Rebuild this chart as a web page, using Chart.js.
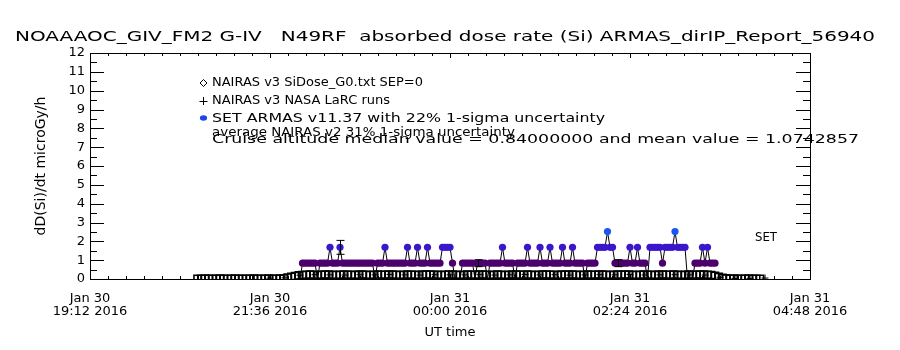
<!DOCTYPE html>
<html>
<head>
<meta charset="utf-8">
<script src="https://cdn.jsdelivr.net/npm/chart.js@4"></script>
<style>
  html, body { margin: 0; padding: 0; background: #fff; }
</style>
</head>
<body>
<canvas id="chart-dose" width="900" height="350"></canvas>
<script>
// Time axis is in minutes after Jan 30 19:12 UT
const tickDay = ['Jan 30', 'Jan 30', 'Jan 31', 'Jan 31', 'Jan 31'];
const tickClock = ['19:12 2016', '21:36 2016', '00:00 2016', '02:24 2016', '04:48 2016'];

// NAIRAS v3 SiDose_G0 model, one value every 3 minutes
const nairasStart = 86;
const nairasStep = 3;
const nairasDose = [
    0.01, 0.01, 0.02, 0.01, 0.01, 0.01, 0.02, 0.01, 0.01, 0.01, 0.02, 0.01, 0.01, 0.01, 0.01, 0.02, 0.01, 0.01, 0.01, 0.02, 0.01, 0.01, 0.02,
    0.04, 0.08, 0.12, 0.16, 0.19,
    0.21, 0.22, 0.23, 0.22, 0.21, 0.22, 0.24, 0.23, 0.22, 0.21,
    0.22, 0.23, 0.22, 0.22, 0.21, 0.23, 0.24, 0.22, 0.21, 0.22,
    0.23, 0.22, 0.22, 0.24, 0.23, 0.22, 0.21, 0.22, 0.23, 0.22,
    0.22, 0.21, 0.23, 0.24, 0.23, 0.22, 0.22, 0.21, 0.22, 0.23,
    0.24, 0.22, 0.21, 0.22, 0.23, 0.22, 0.22, 0.23, 0.24, 0.22,
    0.21, 0.22, 0.23, 0.22, 0.21, 0.22, 0.24, 0.23, 0.22, 0.22,
    0.23, 0.22, 0.21, 0.22, 0.23, 0.24, 0.22, 0.22, 0.21, 0.23,
    0.22, 0.23, 0.24, 0.22, 0.21, 0.22, 0.23, 0.22, 0.22, 0.24,
    0.23, 0.22, 0.21, 0.22, 0.23, 0.22, 0.24, 0.23, 0.22, 0.21,
    0.22, 0.23, 0.22, 0.22, 0.21, 0.23, 0.24, 0.22, 0.22, 0.23,
    0.22, 0.21, 0.22, 0.23, 0.22, 0.22, 0.24, 0.23, 0.22, 0.21,
    0.17, 0.11, 0.06, 0.03,
    0.01, 0.02, 0.01, 0.01, 0.01, 0.02, 0.01, 0.01, 0.01
];

// NAIRAS v3 NASA LaRC runs, every 12 minutes
const larcStart = 144;
const larcStep = 12;
const larcDose = [
    0.04, 0.06, 0.20,
    0.23, 0.22, 0.21, 0.23, 0.22, 0.24, 0.22, 0.21, 0.23, 0.22, 0.22, 0.23, 0.21, 0.22,
    0.24, 0.22, 0.23, 0.21, 0.22, 0.23, 0.22, 0.24, 0.21, 0.22, 0.23, 0.22, 0.21,
    0.09, 0.03, 0.03, 0.05
];

// SET ARMAS v11.37 dose rate, every 2 minutes (quantised in 0.84 steps)
const armasStart = 168;
const armasStep = 2;
const armasDose = [
    0, 0.84, 0.84, 0.84, 0.84, 0.84, 0.84, 0, 0.84, 0.84,
    0.84, 0.84, 1.68, 0.84, 0.84, 0.84, 1.68, 0.84, 0.84, 0.84,
    0.84, 0.84, 0.84, 0.84, 0.84, 0.84, 0.84, 0.84, 0.84, 0.84,
    0, 0.84, 0.84, 0.84, 1.68, 0.84, 0.84, 0.84, 0.84, 0.84,
    0.84, 0.84, 0.84, 1.68, 0.84, 0.84, 0.84, 1.68, 0.84, 0.84,
    0.84, 1.68, 0.84, 0.84, 0.84, 0.84, 0.84, 1.68, 1.68, 1.68,
    1.68, 0.84, 0, 0, 0, 0.84, 0.84, 0.84, 0.84, 0.84,
    0, 0.84, 0.84, 0.84, 0.84, 0, 0.84, 0.84, 0.84, 0.84,
    0.84, 1.68, 0.84, 0.84, 0.84, 0.84, 0, 0.84, 0.84, 0.84,
    0.84, 1.68, 0.84, 0.84, 0.84, 0.84, 1.68, 0.84, 0.84, 0.84,
    1.68, 0.84, 0.84, 0.84, 0.84, 1.68, 0.84, 0.84, 0.84, 1.68,
    0.84, 0.84, 0.84, 0.84, 0, 0.84, 0.84, 0.84, 0.84, 1.68,
    1.68, 1.68, 1.68, 2.52, 1.68, 1.68, 0.84, 0.84, 0.84, 0.84,
    0.84, 0.84, 1.68, 0.84, 0.84, 1.68, 0.84, 0.84, 0.84, 0,
    1.68, 1.68, 1.68, 1.68, 1.68, 0.84, 1.68, 1.68, 1.68, 1.68,
    2.52, 1.68, 1.68, 1.68, 1.68, 0, 0, 0, 0.84, 0.84,
    0.84, 1.68, 0.84, 1.68, 0.84, 0.84, 0.84
];
const armasSigma = 0.22;

// sample ARMAS readings shown with their 1-sigma bars
const errTime = [200, 310, 422];
const errDose = [1.68, 0.84, 0.84];

const titleText = 'NOAAAOC_GIV_FM2 G-IV   N49RF  absorbed dose rate (Si) ARMAS_dirIP_Report_56940';
const noteLines = [
    { text: 'NAIRAS v3 SiDose_G0.txt SEP=0', x: 212, y: 83, w: 211 },
    { text: 'NAIRAS v3 NASA LaRC runs', x: 212, y: 101, w: 178 },
    { text: 'SET ARMAS v11.37 with 22% 1-sigma uncertainty', x: 212, y: 119, w: 393 },
    { text: 'average NAIRAS v2 31% 1-sigma uncertainty', x: 212, y: 133, w: 303 },
    { text: 'Cruise altitude median value = 0.84000000 and mean value = 1.0742857', x: 212, y: 140, w: 647 },
    { text: 'SET', x: 755, y: 238, w: 22 }
];

const FONT = 'DejaVu Sans';

function armasColor(v) {
    if (v >= 2.4) return '#1858f0';
    if (v >= 1.6) return '#3a16cc';
    if (v >= 0.8) return '#4c006c';
    return '#000000';
}

function points(start, step, values) {
    return values.map((v, i) => ({ x: start + i * step, y: v }));
}

// stretch a line of text horizontally so it spans the given width
function fitText(ctx, text, x, y, width) {
    const w = ctx.measureText(text).width;
    ctx.save();
    ctx.translate(x, y);
    ctx.scale(width / w, 1);
    ctx.fillText(text, 0, 0);
    ctx.restore();
}

// frame with inward tick marks on all four sides, plus error bars
const frameTicks = {
    id: 'frameTicks',
    afterDatasetsDraw(chart) {
        const { ctx, chartArea: a, scales: { x, y } } = chart;
        ctx.save();
        ctx.strokeStyle = '#000';
        ctx.lineWidth = 1;

        // error bars
        errTime.forEach((t, i) => {
            const px = Math.round(x.getPixelForValue(t)) + 0.5;
            const lo = y.getPixelForValue(errDose[i] * (1 - armasSigma));
            const hi = y.getPixelForValue(errDose[i] * (1 + armasSigma));
            ctx.beginPath();
            ctx.moveTo(px, lo); ctx.lineTo(px, hi);
            ctx.moveTo(px - 4, lo); ctx.lineTo(px + 4, lo);
            ctx.moveTo(px - 4, hi); ctx.lineTo(px + 4, hi);
            ctx.stroke();
        });

        ctx.strokeRect(a.left + 0.5, a.top + 0.5, a.right - a.left, a.bottom - a.top);
        ctx.beginPath();
        for (let k = 0; k <= 40; k++) {
            const px = Math.round(x.getPixelForValue(k * 14.4)) + 0.5;
            const len = k % 10 === 0 ? 5 : 3;
            ctx.moveTo(px, a.bottom); ctx.lineTo(px, a.bottom - len);
            ctx.moveTo(px, a.top); ctx.lineTo(px, a.top + len);
        }
        for (let k = 0; k <= 24; k++) {
            const py = Math.round(y.getPixelForValue(k * 0.5)) + 0.5;
            const len = k % 2 === 0 ? 14 : 7;
            ctx.moveTo(a.left, py); ctx.lineTo(a.left + len, py);
            ctx.moveTo(a.right, py); ctx.lineTo(a.right - len, py);
        }
        ctx.stroke();
        ctx.restore();
    },
    afterDraw(chart) {
        const ctx = chart.ctx;
        ctx.save();
        ctx.fillStyle = '#000';
        ctx.textBaseline = 'middle';
        ctx.textAlign = 'left';
        ctx.font = '14px "' + FONT + '"';
        fitText(ctx, titleText, 15, 37, 860);
        ctx.font = '13px "' + FONT + '"';
        noteLines.forEach(n => fitText(ctx, n.text, n.x, n.y, n.w));

        // legend symbols
        ctx.strokeStyle = '#000';
        ctx.lineWidth = 1;
        ctx.beginPath();
        ctx.moveTo(203.5, 79.5); ctx.lineTo(207, 83); ctx.lineTo(203.5, 86.5); ctx.lineTo(200, 83); ctx.closePath();
        ctx.stroke();
        ctx.beginPath();
        ctx.moveTo(203.5, 97); ctx.lineTo(203.5, 105);
        ctx.moveTo(199.5, 101.5); ctx.lineTo(207.5, 101.5);
        ctx.stroke();
        ctx.fillStyle = '#1e46e6';
        ctx.beginPath();
        ctx.ellipse(203.5, 118, 3.6, 2.8, 0, 0, Math.PI * 2);
        ctx.fill();
        ctx.restore();
    }
};

Chart.defaults.font.family = FONT;
Chart.defaults.color = '#000';

const chart = new Chart(document.getElementById('chart-dose'), {
    type: 'scatter',
    data: {
        datasets: [{
            label: 'SET ARMAS',
            data: points(armasStart, armasStep, armasDose),
            showLine: true,
            borderColor: '#000',
            borderWidth: 1,
            tension: 0,
            pointRadius: c => (c.raw && c.raw.y > 0 ? 3.6 : 0),
            pointBorderWidth: 0,
            pointBackgroundColor: c => armasColor(c.raw ? c.raw.y : 0),
            pointBorderColor: c => armasColor(c.raw ? c.raw.y : 0),
            clip: 0
        }, {
            label: 'NAIRAS v3 NASA LaRC runs',
            data: points(larcStart, larcStep, larcDose),
            pointStyle: 'cross',
            pointRadius: 3.5,
            pointBorderColor: '#000',
            pointBorderWidth: 1,
            clip: 0
        }, {
            label: 'NAIRAS v3 SiDose_G0',
            data: points(nairasStart, nairasStep, nairasDose),
            pointStyle: 'rect',
            pointRadius: 5,
            pointBackgroundColor: 'rgba(0,0,0,0)',
            pointBorderColor: '#000',
            pointBorderWidth: 1.6,
            clip: 0
        }]
    },
    options: {
        responsive: false,
        animation: false,
        events: [],
        layout: { padding: { top: 53, right: 90, left: 0, bottom: 0 } },
        plugins: {
            legend: { display: false },
            tooltip: { enabled: false },
            title: { display: false }
        },
        scales: {
            x: {
                type: 'linear',
                min: 0,
                max: 576,
                grid: { display: false, drawTicks: false },
                border: { display: false },
                ticks: {
                    stepSize: 144,
                    padding: 13,
                    maxRotation: 0,
                    autoSkip: false,
                    font: { size: 13, lineHeight: 1.0 },
                    callback: v => {
                        const i = Math.round(v / 144);
                        return [tickDay[i], tickClock[i]];
                    }
                },
                title: {
                    display: true,
                    text: 'UT time',
                    font: { size: 13 },
                    padding: { top: 0, bottom: 10 }
                },
                afterFit: s => { s.height = 71; }
            },
            y: {
                min: 0,
                max: 12,
                grid: { display: false, drawTicks: false },
                border: { display: false },
                ticks: { stepSize: 1, padding: 5, font: { size: 13 } },
                title: {
                    display: true,
                    text: 'dD(Si)/dt microGy/h',
                    font: { size: 14 },
                    padding: { top: 33, bottom: 0 }
                },
                afterFit: s => { s.width = 90; }
            }
        }
    },
    plugins: [frameTicks]
});
</script>
</body>
</html>
